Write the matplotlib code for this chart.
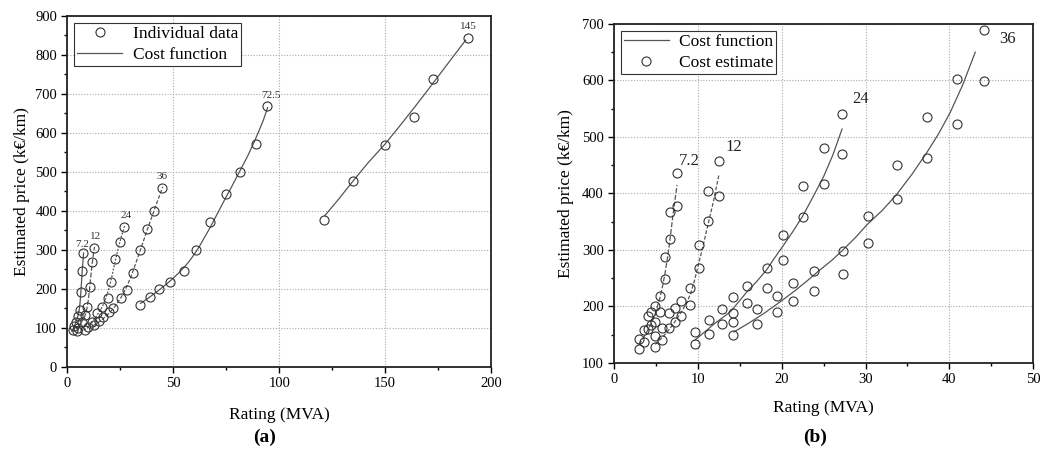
import matplotlib
matplotlib.use("Agg")
import matplotlib.pyplot as plt
from matplotlib.ticker import MultipleLocator

plt.rcParams['font.family'] = ['Liberation Serif', 'DejaVu Serif']

# ---------------- Panel (a) data ----------------
a_labels = ["7.2", "12", "24", "36", "72.5", "145"]
a_pts_x = {
    "7.2": [2.5, 3.3, 4.1, 4.9, 5.7, 6.3, 6.9, 7.5],
    "12": [4.4, 5.2, 6.8, 8.3, 9.4, 10.7, 11.8, 12.7],
    "24": [8.5, 9.9, 11.5, 13.8, 16.2, 19.0, 20.6, 22.5, 24.9, 26.8],
    "36": [12.3, 15.0, 17.0, 19.5, 21.7, 25.3, 28.0, 30.8, 34.3, 37.5, 41.0, 44.7],
    "72.5": [34.3, 39.2, 43.3, 48.2, 54.8, 60.7, 67.3, 74.9, 81.5, 89.0, 94.4],
    "145": [121.2, 135.0, 150.0, 163.7, 172.8, 189.0],
}
a_pts_y = {
    "7.2": [95, 104, 116, 130, 146, 191, 246, 292],
    "12": [93, 99, 116, 133, 155, 206, 270, 306],
    "24": [95, 103, 116, 138, 155, 178, 217, 276, 320, 358],
    "36": [108, 118, 127, 140, 150, 176, 197, 242, 300, 354, 399, 458],
    "72.5": [159, 180, 199, 217, 246, 299, 373, 443, 501, 572, 668],
    "145": [378, 478, 568, 640, 738, 844],
}
a_fit_x = {
    "7.2": [2.0, 2.5, 3.0, 3.5, 4.0, 4.5, 5.0, 5.4, 5.7, 6.0, 6.3, 6.6, 6.9, 7.2, 7.6],
    "12": [4.0, 5.0, 6.0, 7.0, 8.0, 8.6, 9.2, 9.8, 10.4, 11.0, 11.6, 12.2, 12.8],
    "24": [8.0, 9.0, 10.0, 11.0, 12.0, 13.0, 14.0, 15.0, 16.0, 17.0, 18.0, 19.0,
           20.0, 21.0, 22.0, 23.0, 24.0, 25.0, 26.0, 27.0],
    "36": [12.0, 13.5, 15.0, 16.5, 18.0, 19.5, 21.0, 22.5, 24.0, 25.5, 27.0, 28.5,
           30.0, 31.5, 33.0, 34.5, 36.0, 37.5, 39.0, 40.5, 42.0, 43.5, 45.0],
    "72.5": [34.5, 37.5, 40, 42.5, 45, 47.5, 50, 52.5, 55, 57.5, 60, 62.5, 65, 67.5,
             70, 72.5, 75, 77.5, 80, 82.5, 85, 87.5, 90, 92.5, 94.5],
    "145": [121.5, 128, 135, 142, 150, 156, 163, 169, 175, 181, 188],
}
a_fit_y = {
    "7.2": [92, 96, 102, 108, 115, 123, 132, 142, 152, 168, 190, 215, 240, 263, 292],
    "12": [97, 103, 110, 118, 128, 137, 150, 170, 198, 232, 262, 287, 308],
    "24": [95, 99, 104, 110, 118, 125, 133, 141, 150, 161, 175, 191,
           210, 233, 258, 282, 305, 325, 345, 362],
    "36": [105, 110, 116, 122, 130, 137, 146, 156, 168, 180, 195, 212,
           232, 254, 278, 301, 325, 349, 372, 395, 418, 440, 462],
    "72.5": [163, 174, 184, 194, 205, 216, 228, 241, 255, 271, 290, 311, 335, 359,
             385, 411, 437, 462, 488, 514, 540, 569, 600, 633, 665],
    "145": [388, 430, 478, 524, 572, 612, 660, 702, 745, 788, 838],
}
a_text_pos = {"7.2": (6.9, 314), "12": (13.4, 335), "24": (27.7, 389),
              "36": (44.7, 488), "72.5": (96, 695), "145": (189.3, 873)}
a_styles = {"7.2": "-", "12": (0, (4, 1.5)), "24": (0, (1.5, 1.2)),
            "36": (0, (3, 1.5)), "72.5": "-", "145": "-"}

# ---------------- Panel (b) data ----------------
b_labels = ["7.2", "12", "24", "36"]
b_pts_x = {
    "7.2": [2.9, 2.9, 3.5, 3.5, 4.0, 4.0, 4.4, 4.4, 4.9, 4.9, 5.5, 5.5, 6.1, 6.1, 6.7, 6.7, 7.5, 7.5],
    "12": [4.9, 4.9, 5.7, 5.7, 6.5, 6.5, 7.2, 7.2, 8.0, 8.0, 9.1, 9.1, 10.1, 10.1, 11.2, 11.2, 12.5, 12.5],
    "24": [9.6, 9.6, 11.3, 11.3, 12.9, 12.9, 14.2, 14.2, 15.9, 15.9, 18.2, 18.2, 20.2, 20.2, 22.5, 22.5, 25.0, 25.0, 27.2, 27.2],
    "36": [14.2, 14.2, 17.0, 17.0, 19.4, 19.4, 21.4, 21.4, 23.9, 23.9, 27.3, 27.3, 30.3, 30.3, 33.7, 33.7, 37.3, 37.3, 40.9, 40.9, 44.2, 44.2],
}
b_pts_y = {
    "7.2": [143, 124, 159, 137, 184, 160, 191, 168, 200, 172, 219, 190, 287, 248, 368, 319, 436, 377],
    "12": [147, 128, 162, 140, 188, 162, 197, 172, 210, 184, 233, 202, 309, 268, 405, 351, 457, 395],
    "24": [155, 134, 176, 152, 195, 169, 217, 188, 237, 206, 268, 232, 326, 283, 413, 358, 481, 417, 541, 469],
    "36": [172, 150, 195, 169, 218, 190, 241, 209, 263, 228, 299, 258, 360, 313, 450, 390, 535, 463, 602, 522, 690, 599],
}
b_fit_x = {
    "7.2": [2.9, 3.5, 4.0, 4.5, 5.0, 5.45, 5.8, 6.1, 6.4, 6.6, 6.8, 7.0, 7.25, 7.5],
    "12": [4.9, 5.8, 6.6, 7.2, 8.0, 8.6, 9.1, 9.6, 10.1, 10.6, 11.15, 11.8, 12.5],
    "24": [9.6, 10.8, 12.0, 13.0, 13.9, 14.9, 15.9, 17.0, 18.2, 19.1, 20.1, 21.3,
           22.5, 23.7, 25.0, 26.1, 27.2],
    "36": [14.3, 16.0, 17.9, 19.7, 21.5, 23.0, 24.5, 26.0, 27.3, 28.8, 30.2, 32.0,
           33.7, 35.5, 37.3, 38.7, 40.1, 41.6, 43.1],
    }
b_fit_y = {
    "7.2": [132, 145, 158, 172, 192, 215, 238, 262, 290, 312, 336, 360, 388, 415],
    "12": [133, 146, 160, 172, 190, 205, 222, 247, 277, 307, 342, 383, 433],
    "24": [140, 155, 170, 181, 191, 209, 227, 244, 265, 285, 306, 332,
           360, 393, 430, 468, 514],
    "36": [155, 170, 188, 207, 227, 245, 264, 282, 300, 322, 345, 370,
           398, 433, 472, 505, 543, 592, 650],
}
b_text_pos = {"7.2": (9.0, 457), "12": (14.3, 483), "24": (29.4, 567), "36": (47.0, 673)}
b_styles = {"7.2": (0, (4, 1.5)), "12": (0, (3, 1.5)), "24": "-", "36": "-"}

line_col = "#555555"
mk = dict(marker="o", markersize=6.5, markerfacecolor="none",
          markeredgecolor="#333333", markeredgewidth=0.8, linestyle="none")

fig = plt.figure(figsize=(10.59, 4.57), dpi=100)

def style_axes(ax):
    for s in ax.spines.values():
        s.set_linewidth(1.3)
        s.set_color("#222222")
    ax.tick_params(axis="both", which="major", direction="out", length=4,
                   width=1.0, labelsize=10.5, top=False, right=False)
    ax.tick_params(axis="both", which="minor", direction="out", length=2.5,
                   width=1.0, top=False, right=False)
    ax.grid(True, which="major", linestyle=(0, (1, 1.5)), color="#aaaaaa", linewidth=0.8)
    ax.set_axisbelow(True)

def make_legend(ax, handles, labels):
    leg = ax.legend(handles, labels, loc="upper left", fontsize=12.5,
                    fancybox=False, edgecolor="#333333", framealpha=1,
                    handlelength=2.6, borderaxespad=0.4, labelspacing=0.3,
                    borderpad=0.15, handletextpad=0.6)
    leg.get_frame().set_linewidth(0.8)
    return leg

# Panel (a)
ax1 = fig.add_axes([0.0637, 0.197, 0.4, 0.768])
for k in a_labels:
    ax1.plot(a_fit_x[k], a_fit_y[k], color=line_col, lw=0.9, linestyle=a_styles[k])
    ax1.plot(a_pts_x[k], a_pts_y[k], **mk)
    tx, ty = a_text_pos[k]
    ax1.text(tx, ty, k, fontsize=8, ha="center", va="center", color="#333333")
ax1.set_xlim(0, 200)
ax1.set_ylim(0, 900)
ax1.xaxis.set_major_locator(MultipleLocator(50))
ax1.xaxis.set_minor_locator(MultipleLocator(25))
ax1.yaxis.set_major_locator(MultipleLocator(100))
ax1.yaxis.set_minor_locator(MultipleLocator(50))
style_axes(ax1)
ax1.set_xlabel("Rating (MVA)", fontsize=12.5, labelpad=12)
ax1.set_ylabel("Estimated price (k€/km)", fontsize=12.5, labelpad=4)
h1, = ax1.plot([], [], **mk)
h2, = ax1.plot([], [], color=line_col, lw=0.9)
make_legend(ax1, [h1, h2], ["Individual data", "Cost function"])

# Panel (b)
ax2 = fig.add_axes([0.58, 0.2057, 0.3955, 0.742])
for k in b_labels:
    ax2.plot(b_fit_x[k], b_fit_y[k], color=line_col, lw=0.9, linestyle=b_styles[k])
    ax2.plot(b_pts_x[k], b_pts_y[k], **mk)
    tx, ty = b_text_pos[k]
    ax2.text(tx, ty, k, fontsize=12, ha="center", va="center", color="#222222")
ax2.set_xlim(0, 50)
ax2.set_ylim(100, 700)
ax2.xaxis.set_major_locator(MultipleLocator(10))
ax2.xaxis.set_minor_locator(MultipleLocator(5))
ax2.yaxis.set_major_locator(MultipleLocator(100))
ax2.yaxis.set_minor_locator(MultipleLocator(50))
style_axes(ax2)
ax2.set_xlabel("Rating (MVA)", fontsize=12.5, labelpad=10)
ax2.set_ylabel("Estimated price (k€/km)", fontsize=12.5, labelpad=6)
g1, = ax2.plot([], [], color=line_col, lw=0.9)
g2, = ax2.plot([], [], **mk)
make_legend(ax2, [g1, g2], ["Cost function", "Cost estimate"])

fig.text(0.25, 0.042, "(a)", fontsize=14, fontweight="bold", ha="center", va="center")
fig.text(0.77, 0.042, "(b)", fontsize=14, fontweight="bold", ha="center", va="center")

fig.savefig("out.png", dpi=100)
